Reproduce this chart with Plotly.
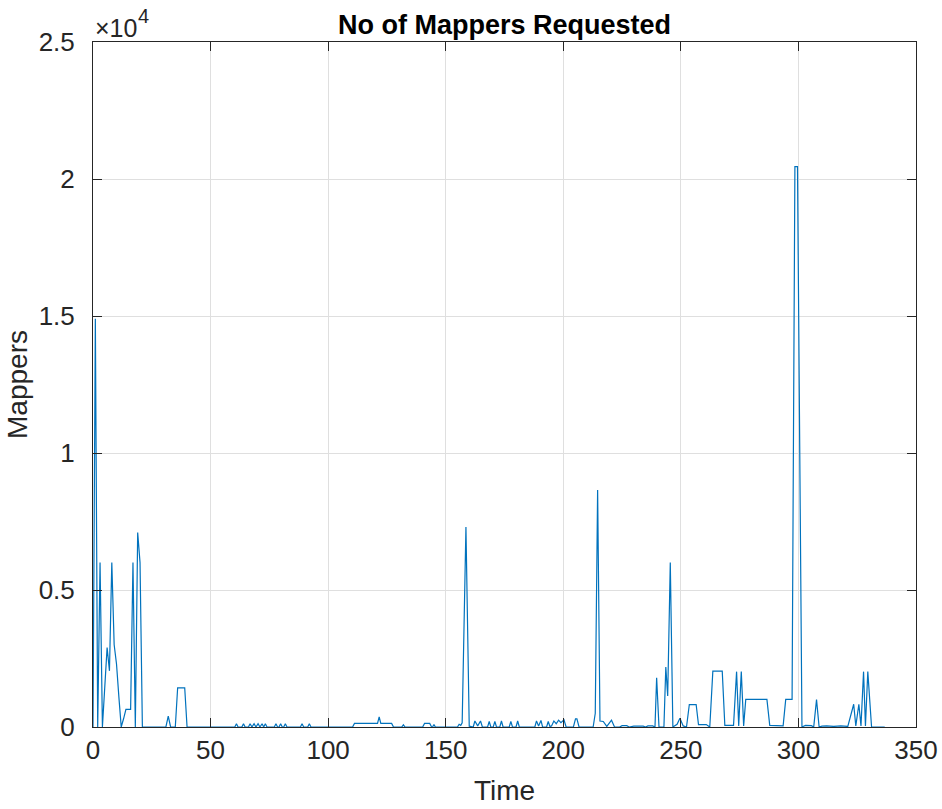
import plotly.graph_objects as go

# ---- data ----
time = [0, 1, 2, 3, 4, 5, 6, 7, 8, 9, 10, 11, 12, 13, 14, 15, 16, 17, 18, 19, 20, 21,
        31, 32, 33, 35, 36, 39, 40,
        60.3, 61, 61.7, 63.3, 64, 64.7, 66.1, 66.8, 67.6, 68.5, 69.3, 70.2, 71.0, 71.9, 72.6, 73.3, 74.0,
        77.1, 77.8, 78.5, 79.1, 79.8, 80.5, 81.1, 81.8, 82.5, 88.2, 88.9, 89.6, 91.3, 92.0, 92.7,
        110.4, 111.2, 121, 121.7, 122.4, 127, 127.8,
        131.3, 132, 132.7, 140.2, 141, 143.2, 144, 144.4, 145, 145.6,
        155, 155.7, 156.4, 157, 158.6, 160,
        161.7, 162.4, 163.6, 164.8, 165.6, 167.8, 168.5, 169.2, 170.2, 170.9, 171.6, 173, 173.7, 174.4,
        177, 177.7, 178.4, 179.9, 180.6, 181.3,
        187.9, 188.6, 189.5, 190.5, 191.2, 192.9, 193.6, 194.3, 195, 196, 197, 198, 199, 200.3, 201.2,
        204.3, 205.2, 205.8, 206.7,
        212.7, 213.6, 214.6, 215.6, 217, 218.5, 220.5, 221.8,
        224, 225, 227, 228, 230, 234, 235, 236, 238, 239, 239.7, 240.7,
        242.8, 243.6, 244.4, 245.5, 246.6, 248.4, 249.6, 251, 252.4, 253.6, 256.5, 257.5, 260.8, 262.3,
        263.6, 267.6, 268.7, 272.4, 273.7, 274.6, 275.7, 276.7, 277.6, 286.6, 287.8, 293.5, 294.6, 297.3,
        298.5, 299.6, 301.5, 303, 305.5, 306.5, 307.7, 308.8, 310, 312, 315, 318, 321,
        323.5, 324.4, 325.7, 326.6, 327.7, 328.5, 329.5, 331.1, 336.7]

mappers = [0, 14900, 0, 6000, 0, 1400, 2900, 2050, 6000, 3000, 2300, 1100, 0, 300, 640, 640, 640, 6000, 0, 7100, 6000, 0,
           0, 400, 0, 0, 1430, 1430, 0,
           0, 120, 0, 0, 120, 0, 0, 120, 0, 120, 0, 120, 0, 120, 0, 120, 0,
           0, 120, 0, 0, 120, 0, 0, 120, 0, 0, 120, 0, 0, 120, 0,
           0, 130, 130, 370, 130, 130, 0,
           0, 80, 0, 0, 130, 130, 0, 0, 90, 0,
           0, 100, 60, 150, 7300, 30,
           0, 220, 40, 220, 0, 0, 200, 0, 0, 200, 0, 0, 220, 0,
           0, 200, 0, 0, 220, 0,
           0, 220, 40, 240, 0, 0, 200, 20, 40, 220, 120, 250, 160, 260, 0,
           0, 300, 300, 0,
           0, 500, 8650, 220, 200, 20, 250, 0,
           0, 50, 50, 0, 30, 30, 0, 40, 40, 0, 1800, 0,
           0, 2190, 1130, 6000, 0, 100, 320, 40, 0, 820, 820, 90, 90, 0,
           2040, 2040, 60, 60, 2020, 40, 2020, 40, 1010, 1010, 60, 40, 1010, 1010,
           20450, 20450, 0, 60, 50, 0, 1000, 0, 30, 40, 20, 40, 20,
           830, 40, 830, 40, 2020, 40, 2020, 0, 0]

x_ticks = [0, 50, 100, 150, 200, 250, 300, 350]
y_ticks = [0, 5000, 10000, 15000, 20000, 25000]
y_tick_labels = ["0", "0.5", "1", "1.5", "2", "2.5"]

FONT = "Liberation Sans, Arial, Helvetica, sans-serif"
AX = "#262626"

fig = go.Figure(go.Scatter(x=time, y=mappers, mode="lines",
                           line=dict(color="#0072BD", width=1.2)))

common = dict(showline=True, linecolor=AX, linewidth=1, mirror="ticks",
              ticks="inside", ticklen=9, tickcolor=AX, tickwidth=1,
              showgrid=True, gridcolor="#dfdfdf", gridwidth=1, zeroline=False,
              tickfont=dict(family=FONT, size=26, color=AX))

fig.update_xaxes(range=[0, 350], tickvals=x_ticks, ticktext=[str(v) for v in x_ticks],
                 ticklabelstandoff=0,
                 title=dict(text="Time", font=dict(family=FONT, size=28, color=AX), standoff=16),
                 **common)
fig.update_yaxes(range=[0, 25000], tickvals=y_ticks, ticktext=y_tick_labels,
                 ticklabelstandoff=12,
                 title=dict(text="Mappers", font=dict(family=FONT, size=28, color=AX), standoff=2),
                 **common)

fig.update_layout(
    width=942, height=809,
    margin=dict(l=93, r=26, t=42, b=82, autoexpand=False),
    plot_bgcolor="white", paper_bgcolor="white", showlegend=False,
    title=dict(text="<b>No of Mappers Requested</b>", x=0.5, xref="paper",
               y=1 - 25 / 809, yref="container", yanchor="middle", xanchor="center",
               font=dict(family=FONT, size=27, color="black")),
    annotations=[
        dict(text="×10", xref="paper", yref="paper", x=0, y=1, xanchor="left", yanchor="bottom",
             xshift=0, yshift=-2, showarrow=False, font=dict(family=FONT, size=25, color=AX)),
        dict(text="4", xref="paper", yref="paper", x=0, y=1, xanchor="left", yanchor="bottom",
             xshift=43, yshift=13, showarrow=False, font=dict(family=FONT, size=20, color=AX)),
    ],
)

fig.write_html("out.html", config={"displayModeBar": False},
               post_script="document.body.style.margin='0';")
